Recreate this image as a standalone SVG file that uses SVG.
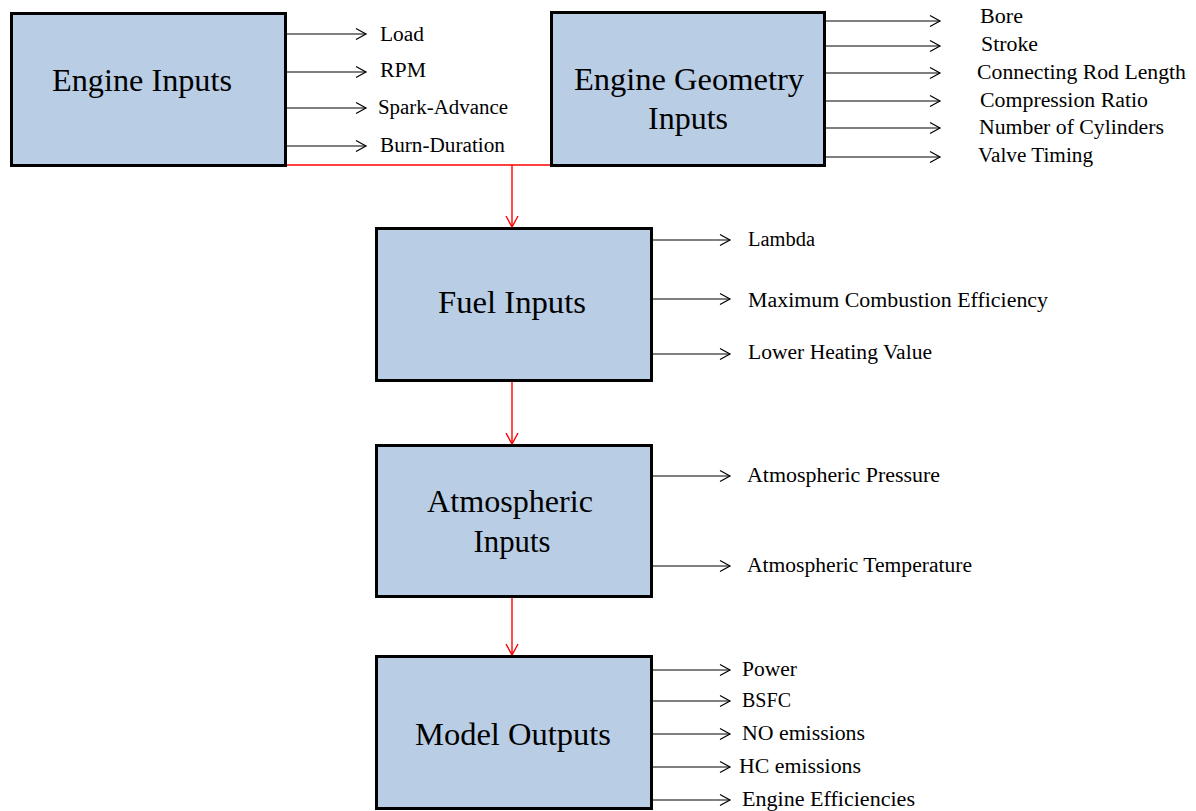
<svg xmlns="http://www.w3.org/2000/svg" width="1196" height="811" viewBox="0 0 1196 811">
  <style>
    .box { fill: #B9CDE5; stroke: #000; stroke-width: 3; }
    .title { font-family: "Liberation Serif", "Times New Roman", serif; font-size: 31px; fill: #000; text-anchor: middle; }
    .lbl { font-family: "Liberation Serif", "Times New Roman", serif; font-size: 20px; fill: #000; }
    .out { stroke: #000; stroke-width: 1.2; fill: none; marker-end: url(#blk); }
    .flow { stroke: #FF0000; stroke-width: 1.4; fill: none; }
  </style>
  <defs>
    <marker id="blk" markerUnits="userSpaceOnUse" markerWidth="14" markerHeight="14" refX="12" refY="7" orient="auto">
      <path d="M2,1.5 L12,7 L2,12.5" fill="none" stroke="#000" stroke-width="1.2"/>
    </marker>
    <marker id="red" markerUnits="userSpaceOnUse" markerWidth="14" markerHeight="14" refX="12" refY="7" orient="auto">
      <path d="M1,1 L12,7 L1,13" fill="none" stroke="#FF0000" stroke-width="1.4"/>
    </marker>
  </defs>

  <g id="connectors">
    <line class="flow" x1="286" y1="165" x2="551" y2="165"/>
    <line class="flow" x1="512" y1="165" x2="512" y2="227" marker-end="url(#red)"/>
    <line class="flow" x1="512" y1="382" x2="512" y2="444" marker-end="url(#red)"/>
    <line class="flow" x1="512" y1="598" x2="512" y2="655" marker-end="url(#red)"/>

    <line class="out" x1="287" y1="34" x2="366" y2="34"/>
    <line class="out" x1="287" y1="72" x2="366" y2="72"/>
    <line class="out" x1="287" y1="108" x2="366" y2="108"/>
    <line class="out" x1="287" y1="146" x2="366" y2="146"/>

    <line class="out" x1="826" y1="21" x2="940" y2="21"/>
    <line class="out" x1="826" y1="46" x2="940" y2="46"/>
    <line class="out" x1="826" y1="73" x2="940" y2="73"/>
    <line class="out" x1="826" y1="101" x2="940" y2="101"/>
    <line class="out" x1="826" y1="128" x2="940" y2="128"/>
    <line class="out" x1="826" y1="157" x2="940" y2="157"/>

    <line class="out" x1="653" y1="240" x2="730" y2="240"/>
    <line class="out" x1="653" y1="299" x2="730" y2="299"/>
    <line class="out" x1="653" y1="354" x2="730" y2="354"/>

    <line class="out" x1="653" y1="476" x2="730" y2="476"/>
    <line class="out" x1="653" y1="566" x2="730" y2="566"/>

    <line class="out" x1="653" y1="670" x2="730" y2="670"/>
    <line class="out" x1="653" y1="701" x2="730" y2="701"/>
    <line class="out" x1="653" y1="734" x2="730" y2="734"/>
    <line class="out" x1="653" y1="767" x2="730" y2="767"/>
    <line class="out" x1="653" y1="800" x2="730" y2="800"/>
  </g>

  <g id="engine-inputs">
    <rect class="box" x="11.5" y="13.5" width="274" height="152"/>
    <text class="title" x="142" y="91" textLength="180" lengthAdjust="spacingAndGlyphs">Engine Inputs</text>
    <text class="lbl" x="380" y="41" textLength="44" lengthAdjust="spacingAndGlyphs">Load</text>
    <text class="lbl" x="380" y="77" textLength="46" lengthAdjust="spacingAndGlyphs">RPM</text>
    <text class="lbl" x="378" y="114" textLength="130" lengthAdjust="spacingAndGlyphs">Spark-Advance</text>
    <text class="lbl" x="380" y="152" textLength="125" lengthAdjust="spacingAndGlyphs">Burn-Duration</text>
  </g>

  <g id="engine-geometry-inputs">
    <rect class="box" x="551.5" y="12.5" width="273" height="153"/>
    <text class="title" x="689" y="90" textLength="230" lengthAdjust="spacingAndGlyphs">Engine Geometry</text>
    <text class="title" x="688" y="129" textLength="80" lengthAdjust="spacingAndGlyphs">Inputs</text>
    <text class="lbl" x="980" y="23" textLength="43" lengthAdjust="spacingAndGlyphs">Bore</text>
    <text class="lbl" x="981" y="51" textLength="57" lengthAdjust="spacingAndGlyphs">Stroke</text>
    <text class="lbl" x="977" y="79" textLength="209" lengthAdjust="spacingAndGlyphs">Connecting Rod Length</text>
    <text class="lbl" x="980" y="107" textLength="168" lengthAdjust="spacingAndGlyphs">Compression Ratio</text>
    <text class="lbl" x="979" y="134" textLength="185" lengthAdjust="spacingAndGlyphs">Number  of Cylinders</text>
    <text class="lbl" x="978" y="162" textLength="115" lengthAdjust="spacingAndGlyphs">Valve  Timing</text>
  </g>

  <g id="fuel-inputs">
    <rect class="box" x="376.5" y="228.5" width="275" height="152"/>
    <text class="title" x="512" y="313" textLength="148" lengthAdjust="spacingAndGlyphs">Fuel Inputs</text>
    <text class="lbl" x="748" y="246" textLength="67" lengthAdjust="spacingAndGlyphs">Lambda</text>
    <text class="lbl" x="748" y="307" textLength="300" lengthAdjust="spacingAndGlyphs">Maximum  Combustion  Efficiency</text>
    <text class="lbl" x="748" y="359" textLength="184" lengthAdjust="spacingAndGlyphs">Lower Heating  Value</text>
  </g>

  <g id="atmospheric-inputs">
    <rect class="box" x="376.5" y="445.5" width="275" height="151"/>
    <text class="title" x="510" y="512" textLength="166" lengthAdjust="spacingAndGlyphs">Atmospheric</text>
    <text class="title" x="512" y="552" textLength="77" lengthAdjust="spacingAndGlyphs">Inputs</text>
    <text class="lbl" x="747" y="482" textLength="193" lengthAdjust="spacingAndGlyphs">Atmospheric  Pressure</text>
    <text class="lbl" x="747" y="572" textLength="225" lengthAdjust="spacingAndGlyphs">Atmospheric  Temperature</text>
  </g>

  <g id="model-outputs">
    <rect class="box" x="376.5" y="656.5" width="275" height="152"/>
    <text class="title" x="513" y="745" textLength="196" lengthAdjust="spacingAndGlyphs">Model Outputs</text>
    <text class="lbl" x="742" y="676" textLength="55" lengthAdjust="spacingAndGlyphs">Power</text>
    <text class="lbl" x="742" y="707" textLength="49" lengthAdjust="spacingAndGlyphs">BSFC</text>
    <text class="lbl" x="742" y="740" textLength="123" lengthAdjust="spacingAndGlyphs">NO emissions</text>
    <text class="lbl" x="739" y="773" textLength="122" lengthAdjust="spacingAndGlyphs">HC emissions</text>
    <text class="lbl" x="742" y="806" textLength="173" lengthAdjust="spacingAndGlyphs">Engine  Efficiencies</text>
  </g>
</svg>
